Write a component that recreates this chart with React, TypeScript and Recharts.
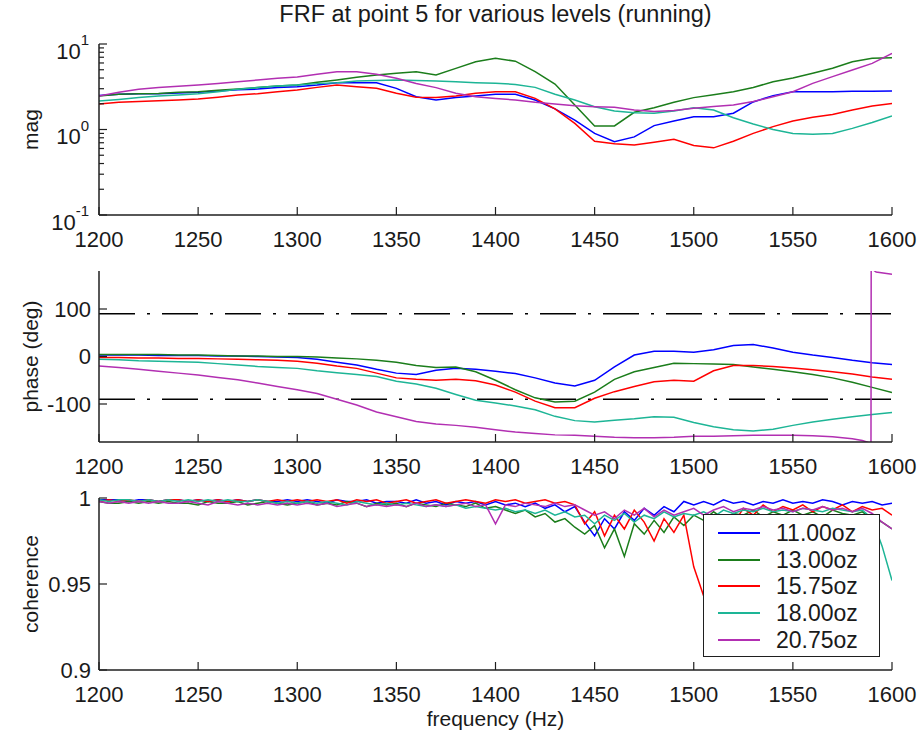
import React from 'react';
import { LineChart, Line, XAxis, YAxis, ReferenceLine, Legend } from 'recharts';

const FONT = '"Liberation Sans", Arial, Helvetica, sans-serif';
const AXIS = '#1f1f1f';
const TXT = '#1a1a1a';

const seriesNames = ['11.00oz', '13.00oz', '15.75oz', '18.00oz', '20.75oz'];
const seriesColors = ['#0000ff', '#1b7d1b', '#ff0000', '#1db596', '#b22fb2'];

const freqTicks = [1200, 1250, 1300, 1350, 1400, 1450, 1500, 1550, 1600];
const magTicks = [0.1, 0.2, 0.3, 0.4, 0.5, 0.6, 0.7, 0.8, 0.9, 1, 2, 3, 4, 5, 6, 7, 8, 9, 10];
const phaseTicks = [-100, 0, 100];
const cohTicks = [0.9, 0.95, 1];

const freq10 = [
  1200, 1210, 1220, 1230, 1240, 1250, 1260, 1270, 1280, 1290, 1300,
  1310, 1320, 1330, 1340, 1350, 1360, 1370, 1380, 1390, 1400,
  1410, 1420, 1430, 1440, 1450, 1460, 1470, 1480, 1490, 1500,
  1510, 1520, 1530, 1540, 1550, 1560, 1570, 1580, 1590, 1600,
];

const freq5 = [
  1200, 1205, 1210, 1215, 1220, 1225, 1230, 1235, 1240, 1245,
  1250, 1255, 1260, 1265, 1270, 1275, 1280, 1285, 1290, 1295,
  1300, 1305, 1310, 1315, 1320, 1325, 1330, 1335, 1340, 1345,
  1350, 1355, 1360, 1365, 1370, 1375, 1380, 1385, 1390, 1395,
  1400, 1405, 1410, 1415, 1420, 1425, 1430, 1435, 1440, 1445,
  1450, 1455, 1460, 1465, 1470, 1475, 1480, 1485, 1490, 1495,
  1500, 1505, 1510, 1515, 1520, 1525, 1530, 1535, 1540, 1545,
  1550, 1555, 1560, 1565, 1570, 1575, 1580, 1585, 1590, 1595,
  1600,
];

// ---- magnitude ----
const magBlue = [
  2.49, 2.58, 2.62, 2.62, 2.67, 2.72, 2.82, 2.92, 2.97, 3.09, 3.17,
  3.31, 3.53, 3.53, 3.53, 3.03, 2.42, 2.21, 2.36, 2.47, 2.58,
  2.58, 2.21, 1.74, 1.29, 0.9, 0.72, 0.82, 1.11, 1.26, 1.41,
  1.41, 1.55, 2.1, 2.49, 2.77, 2.77, 2.77, 2.8, 2.8, 2.82,
];
const magGreen = [
  2.47, 2.58, 2.62, 2.64, 2.72, 2.77, 2.87, 2.97, 3.09, 3.22, 3.31,
  3.56, 3.79, 4.08, 4.34, 4.54, 4.75, 4.34, 5.19, 6.21, 6.79,
  6.3, 4.75, 3.4, 1.93, 1.1, 1.1, 1.59, 1.8, 2.08, 2.36,
  2.55, 2.77, 3.1, 3.62, 4.0, 4.54, 5.2, 6.21, 6.8, 6.92,
];
const magRed = [
  1.99, 2.08, 2.12, 2.17, 2.21, 2.27, 2.39, 2.53, 2.62, 2.77, 2.9,
  3.11, 3.31, 3.17, 3.03, 2.65, 2.38, 2.36, 2.47, 2.65, 2.77,
  2.77, 2.31, 1.74, 1.18, 0.73, 0.68, 0.66, 0.71, 0.77, 0.65,
  0.61, 0.73, 0.9, 1.08, 1.26, 1.39, 1.5, 1.69, 1.88, 2.02,
];
const magTeal = [
  2.15, 2.25, 2.36, 2.47, 2.53, 2.62, 2.77, 2.95, 3.09, 3.22, 3.31,
  3.44, 3.53, 3.69, 3.75, 3.79, 3.75, 3.69, 3.62, 3.53, 3.47,
  3.37, 3.11, 2.58, 2.21, 1.85, 1.65, 1.57, 1.55, 1.65, 1.8,
  1.69, 1.37, 1.16, 1.0, 0.9, 0.88, 0.9, 1.03, 1.21, 1.44,
];
const magMagenta = [
  2.47, 2.72, 2.95, 3.09, 3.2, 3.31, 3.46, 3.62, 3.79, 3.97, 4.11,
  4.42, 4.75, 4.75, 4.42, 3.97, 3.46, 3.09, 2.65, 2.42, 2.31,
  2.21, 2.08, 1.99, 1.9, 1.85, 1.82, 1.69, 1.62, 1.67, 1.77,
  1.86, 1.93, 2.12, 2.42, 2.77, 3.46, 4.15, 4.97, 5.94, 7.78,
];

// ---- phase ----
const phBlue = [
  3, 3, 3, 2, 2, 2, 1, 1, 0, -1, -2,
  -6, -12, -18, -27, -35, -38, -29, -25, -27, -31,
  -36, -45, -56, -62, -50, -22, 3, 11, 11, 9,
  14, 23, 25, 18, 9, 3, -2, -8, -13, -17,
];
const phGreen = [
  4, 4, 4, 4, 3, 3, 2, 1, 1, 0, 0,
  -1, -3, -5, -8, -12, -19, -23, -22, -32, -50,
  -70, -87, -96, -94, -75, -48, -32, -23, -14, -15,
  -16, -17, -22, -27, -32, -38, -45, -54, -65, -76,
];
const phRed = [
  -2, -2, -3, -3, -4, -4, -5, -6, -7, -8, -10,
  -14, -20, -25, -35, -45, -48, -50, -48, -51, -60,
  -75, -94, -108, -108, -88, -74, -63, -53, -50, -52,
  -30, -19, -19, -21, -24, -28, -32, -37, -43, -48,
];
const phTeal = [
  -6, -7, -9, -10, -11, -12, -15, -18, -21, -23, -25,
  -30, -34, -38, -42, -52, -58, -67, -80, -92, -98,
  -104, -112, -126, -135, -138, -134, -131, -127, -128, -139,
  -148, -154, -157, -153, -145, -138, -132, -127, -122, -118,
];
const phMagentaFreq = [
  1200, 1210, 1220, 1230, 1240, 1250, 1260, 1270, 1280, 1290, 1300,
  1310, 1320, 1330, 1340, 1350, 1360, 1370, 1380, 1390, 1400,
  1410, 1420, 1430, 1440, 1450, 1460, 1470, 1480, 1490, 1500,
  1510, 1520, 1530, 1540, 1550, 1560, 1570, 1580, 1585, 1588,
  1589.4, 1589.5, 1592, 1600,
];
const phMagenta = [
  -20, -23, -27, -31, -35, -39, -44, -49, -56, -63, -70,
  -78, -90, -102, -117, -127, -137, -142, -145, -149, -154,
  -159, -162, -165, -166, -168, -170, -171, -171, -170, -168,
  -168, -167, -166, -166, -166, -167, -169, -173, -177, -181,
  -185, 185, 178, 173,
];

// ---- coherence ----
const cohBlue = [
  0.999, 0.999, 0.999, 0.998, 0.999, 0.999, 0.998, 0.999, 0.999, 0.998,
  0.999, 0.998, 0.999, 0.998, 0.999, 0.998, 0.999, 0.998, 0.998, 0.999,
  0.998, 0.999, 0.998, 0.997, 0.999, 0.998, 0.998, 0.999, 0.997, 0.998,
  0.998, 0.997, 0.999, 0.997, 0.998, 0.996, 0.998, 0.997, 0.998, 0.996,
  0.998, 0.996, 0.997, 0.995, 0.997, 0.994, 0.996, 0.992, 0.995, 0.986,
  0.978, 0.988, 0.982, 0.992, 0.987, 0.994, 0.99, 0.995, 0.992, 0.998,
  0.996, 0.998, 0.996, 0.999, 0.997, 0.998, 0.996, 0.998, 0.997, 0.999,
  0.997, 0.998, 0.997, 0.999, 0.998, 0.996, 0.998, 0.997, 0.998, 0.996,
  0.997,
];
const cohGreen = [
  0.998, 0.997, 0.997, 0.998, 0.997, 0.998, 0.997, 0.998, 0.997, 0.997,
  0.996, 0.998, 0.997, 0.997, 0.998, 0.996, 0.997, 0.998, 0.997, 0.996,
  0.997, 0.998, 0.996, 0.997, 0.996, 0.998, 0.997, 0.995, 0.997, 0.996,
  0.997, 0.995, 0.997, 0.996, 0.995, 0.997, 0.996, 0.995, 0.997, 0.994,
  0.995, 0.993, 0.991, 0.993, 0.989, 0.991, 0.986, 0.988, 0.983, 0.979,
  0.984, 0.971, 0.982, 0.966, 0.985, 0.979, 0.987, 0.98, 0.989, 0.984,
  0.99, 0.987, 0.992, 0.988, 0.991, 0.99, 0.993, 0.989, 0.992, 0.99,
  0.993, 0.99, 0.992, 0.989, 0.993, 0.991, 0.99, 0.992, 0.988, 0.986,
  0.982,
];
const cohRed = [
  0.998, 0.999, 0.998, 0.999, 0.998, 0.999, 0.998, 0.999, 0.999, 0.998,
  0.999, 0.998, 0.999, 0.998, 0.999, 0.998, 0.999, 0.998, 0.999, 0.998,
  0.999, 0.998, 0.999, 0.998, 0.999, 0.997, 0.999, 0.998, 0.999, 0.997,
  0.998, 0.999, 0.997, 0.998, 0.999, 0.997, 0.998, 0.999, 0.998, 0.997,
  0.999, 0.998, 0.999, 0.997, 0.998, 0.999, 0.997, 0.998, 0.996, 0.985,
  0.992, 0.978, 0.99, 0.982, 0.993, 0.986, 0.975, 0.988, 0.98, 0.99,
  0.96, 0.943, 0.975, 0.99, 0.985, 0.994, 0.99, 0.996, 0.992, 0.995,
  0.993, 0.996, 0.992, 0.995, 0.993, 0.996, 0.992, 0.995, 0.993, 0.994,
  0.99,
];
const cohTeal = [
  0.999, 0.998, 0.999, 0.999, 0.998, 0.999, 0.998, 0.999, 0.998, 0.999,
  0.998, 0.999, 0.998, 0.999, 0.998, 0.998, 0.999, 0.998, 0.997, 0.998,
  0.997, 0.998, 0.997, 0.998, 0.997, 0.996, 0.998, 0.997, 0.996, 0.997,
  0.996, 0.997, 0.996, 0.995, 0.996, 0.995, 0.996, 0.994, 0.995, 0.994,
  0.993, 0.994, 0.992, 0.993, 0.991, 0.993, 0.99, 0.992, 0.989, 0.99,
  0.985, 0.99, 0.987, 0.991, 0.986, 0.99, 0.988, 0.992, 0.989, 0.991,
  0.99, 0.992, 0.989, 0.993, 0.991, 0.993, 0.992, 0.994, 0.992, 0.993,
  0.992, 0.994, 0.993, 0.992, 0.994, 0.993, 0.992, 0.993, 0.988, 0.972,
  0.952,
];
const cohMagenta = [
  0.998, 0.997, 0.998, 0.997, 0.998, 0.997, 0.998, 0.997, 0.997, 0.998,
  0.997, 0.996, 0.998, 0.997, 0.996, 0.997, 0.996, 0.997, 0.996, 0.997,
  0.996, 0.997, 0.996, 0.997, 0.995, 0.996, 0.997, 0.995, 0.996, 0.995,
  0.996, 0.995, 0.997, 0.995, 0.996, 0.995, 0.996, 0.997, 0.995, 0.996,
  0.985, 0.996, 0.995, 0.997, 0.996, 0.995, 0.997, 0.995, 0.996, 0.993,
  0.99, 0.992, 0.988, 0.993, 0.99, 0.994, 0.989, 0.993, 0.99, 0.992,
  0.994, 0.99, 0.993, 0.995, 0.992, 0.994, 0.993, 0.995, 0.993, 0.994,
  0.992, 0.994, 0.993, 0.995, 0.993, 0.994, 0.992, 0.994, 0.991, 0.986,
  0.982,
];

const zip = (xs: number[], ys: number[]) => xs.map((f, i) => ({ f, v: ys[i] }));

const magData = [magBlue, magGreen, magRed, magTeal, magMagenta].map((s) => zip(freq10, s));
const phaseData = [
  zip(freq10, phBlue),
  zip(freq10, phGreen),
  zip(freq10, phRed),
  zip(freq10, phTeal),
  zip(phMagentaFreq, phMagenta),
];
const cohData = [cohBlue, cohGreen, cohRed, cohTeal, cohMagenta].map((s) => zip(freq5, s));

const TICK_LEN = 8;
const TICK_FS = 22;

const BottomTick = (props: any) => {
  const { x, y, payload } = props;
  return (
    <g>
      <line x1={x} y1={y} x2={x} y2={y - TICK_LEN} stroke={AXIS} strokeWidth={1.2} />
      <text x={x} y={y + 24} textAnchor="middle" dominantBaseline="central" fontFamily={FONT} fontSize={TICK_FS} fill={TXT}>
        {payload.value}
      </text>
    </g>
  );
};

const TopTick = (props: any) => {
  const { x, y } = props;
  return <line x1={x} y1={y} x2={x} y2={y + TICK_LEN} stroke={AXIS} strokeWidth={1.2} />;
};

const LeftTick = (props: any) => {
  const { x, y, payload } = props;
  return (
    <g>
      <line x1={x} y1={y} x2={x + TICK_LEN} y2={y} stroke={AXIS} strokeWidth={1.2} />
      <text x={x - 8} y={y} textAnchor="end" dominantBaseline="central" fontFamily={FONT} fontSize={TICK_FS} fill={TXT}>
        {payload.value}
      </text>
    </g>
  );
};

const RightTick = (props: any) => {
  const { x, y } = props;
  return <line x1={x} y1={y} x2={x - TICK_LEN} y2={y} stroke={AXIS} strokeWidth={1.2} />;
};

const isMajorLog = (v: number) => Math.abs(Math.log10(v) - Math.round(Math.log10(v))) < 1e-6;

const LogLeftTick = (props: any) => {
  const { x, y, payload } = props;
  const v = payload.value;
  const major = isMajorLog(v);
  return (
    <g>
      <line x1={x} y1={y} x2={x + (major ? TICK_LEN : 5)} y2={y} stroke={AXIS} strokeWidth={1.2} />
      {major ? (
        <text x={x - 10} y={y + 7} textAnchor="end" dominantBaseline="central" fontFamily={FONT} fontSize={TICK_FS} fill={TXT}>
          10
          <tspan dy={-12} fontSize={15}>{String(Math.round(Math.log10(v)))}</tspan>
        </text>
      ) : null}
    </g>
  );
};

const LogRightTick = (props: any) => {
  const { x, y, payload } = props;
  const major = isMajorLog(payload.value);
  return <line x1={x} y1={y} x2={x - (major ? TICK_LEN : 5)} y2={y} stroke={AXIS} strokeWidth={1.2} />;
};

const YLab = (props: any) => {
  const { labelText, centerY } = props;
  return (
    <text
      x={30}
      y={centerY}
      transform={`rotate(-90 30 ${centerY})`}
      textAnchor="middle"
      dominantBaseline="central"
      fontFamily={FONT}
      fontSize={21}
      fill={TXT}
    >
      {labelText}
    </text>
  );
};

const XLab = (props: any) => {
  const { labelText, centerY } = props;
  return (
    <text x={495.5} y={centerY} textAnchor="middle" dominantBaseline="central" fontFamily={FONT} fontSize={21} fill={TXT}>
      {labelText}
    </text>
  );
};

const LegendBox = (props: any) => {
  const payload = props.payload || [];
  return (
    <div
      style={{
        width: 177,
        height: 143,
        boxSizing: 'border-box',
        border: `1.5px solid ${AXIS}`,
        background: '#fff',
        paddingTop: 5,
      }}
    >
      {payload.map((e: any) => (
        <div key={e.value} style={{ display: 'flex', alignItems: 'center', height: 26.6 }}>
          <div style={{ marginLeft: 14, width: 42, height: 0, borderTop: `2px solid ${e.color}` }} />
          <span style={{ marginLeft: 16, fontFamily: FONT, fontSize: 23, color: TXT, lineHeight: '26px' }}>{e.value}</span>
        </div>
      ))}
    </div>
  );
};

const axisLine = { stroke: AXIS, strokeWidth: 1.5 };

const renderLines = (data: any[]) =>
  data.map((d, i) => (
    <Line
      key={seriesNames[i]}
      xAxisId="b"
      yAxisId="l"
      data={d}
      dataKey="v"
      name={seriesNames[i]}
      stroke={seriesColors[i]}
      strokeWidth={1.5}
      dot={false}
      activeDot={false}
      type="linear"
      isAnimationActive={false}
    />
  ));

const xAxes = (bottomHeight: number, label?: any) => [
  <XAxis
    key="xb"
    xAxisId="b"
    dataKey="f"
    type="number"
    domain={[1200, 1600]}
    ticks={freqTicks}
    interval={0}
    allowDataOverflow
    height={bottomHeight}
    tickSize={0}
    tickMargin={0}
    tickLine={false}
    tick={<BottomTick />}
    axisLine={axisLine}
    label={label}
  />,
  <XAxis
    key="xt"
    xAxisId="t"
    orientation="top"
    dataKey="f"
    type="number"
    domain={[1200, 1600]}
    ticks={freqTicks}
    interval={0}
    allowDataOverflow
    height={0}
    tickSize={0}
    tickMargin={0}
    tickLine={false}
    tick={<TopTick />}
    axisLine={axisLine}
  />,
];

export default function App() {
  return (
    <div style={{ position: 'absolute', left: 0, top: 0, width: 921, height: 738, background: '#fff', overflow: 'hidden' }}>
      <div
        style={{
          position: 'absolute',
          left: 99,
          top: 0,
          width: 793,
          textAlign: 'center',
          fontFamily: FONT,
          fontSize: 23.5,
          lineHeight: '28px',
          color: TXT,
        }}
      >
        FRF at point 5 for various levels (running)
      </div>

      {/* magnitude */}
      <div style={{ position: 'absolute', left: 0, top: 0 }}>
        <LineChart width={921} height={250} margin={{ top: 44, right: 29, bottom: 0, left: 59 }}>
          {xAxes(35)}
          <YAxis
            yAxisId="l"
            type="number"
            scale="log"
            domain={[0.1, 10]}
            ticks={magTicks}
            interval={0}
            allowDataOverflow
            width={40}
            tickSize={0}
            tickMargin={0}
            tickLine={false}
            tick={<LogLeftTick />}
            axisLine={axisLine}
            label={<YLab labelText="mag" centerY={129.5} />}
          />
          <YAxis
            yAxisId="r"
            orientation="right"
            type="number"
            scale="log"
            domain={[0.1, 10]}
            ticks={magTicks}
            interval={0}
            allowDataOverflow
            width={0}
            tickSize={0}
            tickMargin={0}
            tickLine={false}
            tick={<LogRightTick />}
            axisLine={axisLine}
          />
          {renderLines(magData)}
        </LineChart>
      </div>

      {/* phase */}
      <div style={{ position: 'absolute', left: 0, top: 250 }}>
        <LineChart width={921} height={230} margin={{ top: 21, right: 29, bottom: 0, left: 59 }}>
          {xAxes(38)}
          <YAxis
            yAxisId="l"
            type="number"
            domain={[-180, 180]}
            ticks={phaseTicks}
            interval={0}
            allowDataOverflow
            width={40}
            tickSize={0}
            tickMargin={0}
            tickLine={false}
            tick={<LeftTick />}
            axisLine={axisLine}
            label={<YLab labelText="phase (deg)" centerY={106.5} />}
          />
          <YAxis
            yAxisId="r"
            orientation="right"
            type="number"
            domain={[-180, 180]}
            ticks={phaseTicks}
            interval={0}
            allowDataOverflow
            width={0}
            tickSize={0}
            tickMargin={0}
            tickLine={false}
            tick={<RightTick />}
            axisLine={axisLine}
          />
          <ReferenceLine xAxisId="b" yAxisId="l" y={90} stroke="#000" strokeWidth={1.3} strokeDasharray="36 12 3 12" />
          <ReferenceLine xAxisId="b" yAxisId="l" y={-90} stroke="#000" strokeWidth={1.3} strokeDasharray="36 12 3 12" />
          {renderLines(phaseData)}
        </LineChart>
      </div>

      {/* coherence */}
      <div style={{ position: 'absolute', left: 0, top: 480 }}>
        <LineChart width={921} height={258} margin={{ top: 18, right: 29, bottom: 0, left: 59 }}>
          {xAxes(68, <XLab labelText="frequency (Hz)" centerY={238} />)}
          <YAxis
            yAxisId="l"
            type="number"
            domain={[0.9, 1]}
            ticks={cohTicks}
            interval={0}
            allowDataOverflow
            width={40}
            tickSize={0}
            tickMargin={0}
            tickLine={false}
            tick={<LeftTick />}
            axisLine={axisLine}
            label={<YLab labelText="coherence" centerY={104} />}
          />
          <YAxis
            yAxisId="r"
            orientation="right"
            type="number"
            domain={[0.9, 1]}
            ticks={cohTicks}
            interval={0}
            allowDataOverflow
            width={0}
            tickSize={0}
            tickMargin={0}
            tickLine={false}
            tick={<RightTick />}
            axisLine={axisLine}
          />
          {renderLines(cohData)}
          <Legend
            layout="vertical"
            align="center"
            verticalAlign="middle"
            content={<LegendBox />}
            wrapperStyle={{ position: 'absolute', left: 703, top: 34, width: 177, height: 143 }}
          />
        </LineChart>
      </div>
    </div>
  );
}
